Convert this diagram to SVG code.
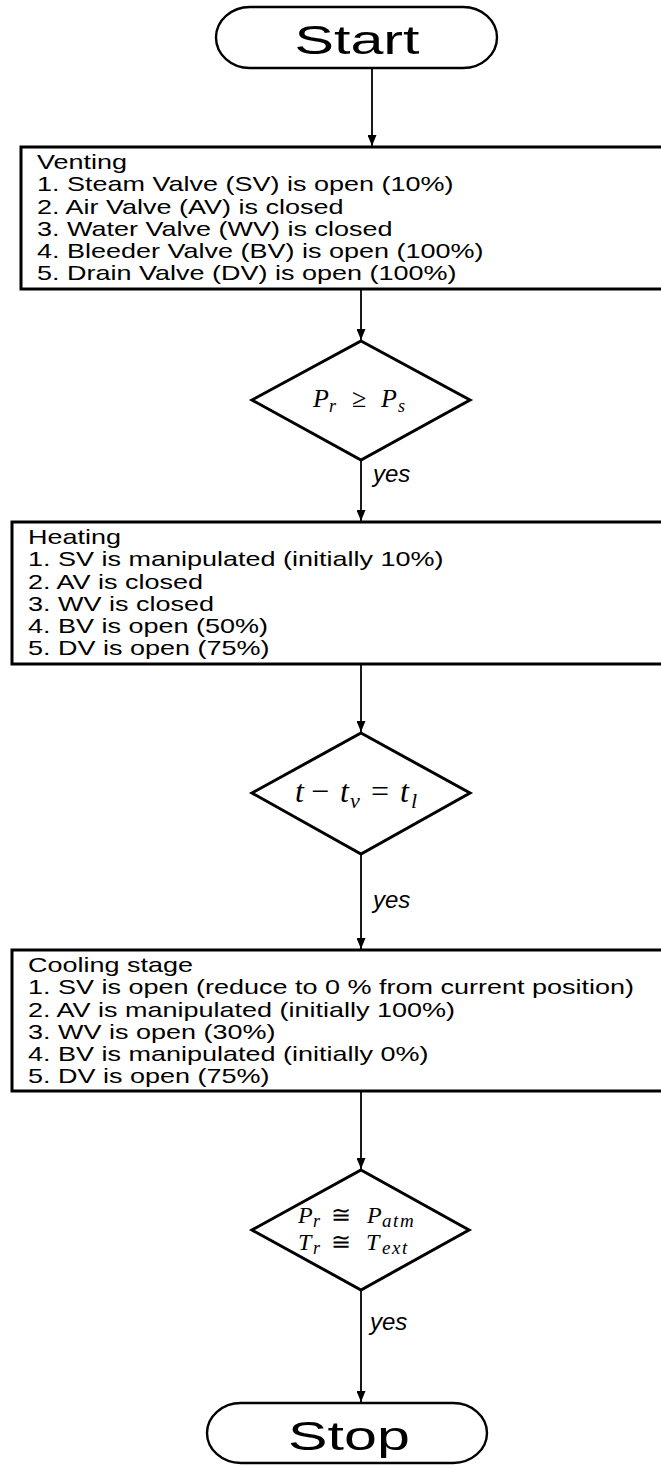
<svg xmlns="http://www.w3.org/2000/svg" width="661" height="1465" viewBox="0 0 661 1465">
<style>
.bg{fill:#fff}
.term{fill:#fff;stroke:#000;stroke-width:2.4}
.box{fill:#fff;stroke:#000;stroke-width:3}
.dia{fill:#fff;stroke:#000;stroke-width:3;stroke-linejoin:miter}
.conn{stroke:#000;stroke-width:1.8;fill:none;marker-end:url(#ah)}
.tt{font-family:"Liberation Sans",Arial,sans-serif;font-size:40px;fill:#000}
.lst{font-family:"Liberation Sans",Arial,sans-serif;font-size:20px;fill:#000}
.yes{font-family:"Liberation Sans",Arial,sans-serif;font-size:24px;font-style:italic;fill:#000}
.m{font-family:"Liberation Serif","DejaVu Serif",serif;font-style:italic;fill:#000}
.up{font-style:normal}
</style>
<defs>
<marker id="ah" markerWidth="11" markerHeight="9" refX="11" refY="4.5" orient="auto" markerUnits="userSpaceOnUse">
<path d="M0,0 L11,4.5 L0,9 z" fill="#000"/>
</marker>
</defs>
<rect class="bg" x="0" y="0" width="661" height="1465"/>

<g id="connectors">
<line class="conn" x1="372" y1="68" x2="372" y2="146"/>
<line class="conn" x1="361" y1="290" x2="361" y2="340"/>
<line class="conn" x1="361" y1="460" x2="361" y2="521"/>
<line class="conn" x1="361" y1="665" x2="361" y2="732"/>
<line class="conn" x1="361" y1="854" x2="361" y2="949"/>
<line class="conn" x1="361" y1="1092" x2="361" y2="1169"/>
<line class="conn" x1="361" y1="1290" x2="361" y2="1402"/>
<text class="yes" x="373" y="482">yes</text>
<text class="yes" x="373" y="908">yes</text>
<text class="yes" x="370" y="1330">yes</text>
</g>

<g id="start">
<rect class="term" x="216" y="7" width="281" height="61" rx="34" ry="30.5"/>
<text class="tt" text-anchor="middle" transform="translate(357,54) scale(1.48,1)">Start</text>
</g>

<g id="venting">
<rect class="box" x="21" y="147" width="700" height="142"/>
<text class="lst" transform="translate(37,169) scale(1.35,1)">
<tspan x="0" y="0">Venting</tspan>
<tspan x="0" y="22.3">1. Steam Valve (SV) is open (10%)</tspan>
<tspan x="0" y="44.6">2. Air Valve (AV) is closed</tspan>
<tspan x="0" y="66.9">3. Water Valve (WV) is closed</tspan>
<tspan x="0" y="89.2">4. Bleeder Valve (BV) is open (100%)</tspan>
<tspan x="0" y="111.5">5. Drain Valve (DV) is open (100%)</tspan>
</text>
</g>

<g id="decision1">
<polygon class="dia" points="361,341 470,400 361,460 252,400"/>
<text class="m" font-size="26"><tspan x="313" y="407">P</tspan><tspan x="329" y="412" font-size="18">r</tspan><tspan class="up" x="352" y="407">≥</tspan><tspan x="381" y="407">P</tspan><tspan x="398" y="412" font-size="18">s</tspan></text>
</g>

<g id="heating">
<rect class="box" x="12" y="522" width="700" height="142"/>
<text class="lst" transform="translate(28,544) scale(1.35,1)">
<tspan x="0" y="0">Heating</tspan>
<tspan x="0" y="22.3">1. SV is manipulated (initially 10%)</tspan>
<tspan x="0" y="44.6">2. AV is closed</tspan>
<tspan x="0" y="66.9">3. WV is closed</tspan>
<tspan x="0" y="89.2">4. BV is open (50%)</tspan>
<tspan x="0" y="111.5">5. DV is open (75%)</tspan>
</text>
</g>

<g id="decision2">
<polygon class="dia" points="361,733 470,793 361,854 252,793"/>
<text class="m" font-size="32"><tspan x="295" y="802">t</tspan><tspan class="up" x="311" y="802">−</tspan><tspan x="340" y="802">t</tspan><tspan x="350" y="808" font-size="22">v</tspan><tspan class="up" x="371" y="802">=</tspan><tspan x="400" y="802">t</tspan><tspan x="411" y="808" font-size="22">l</tspan></text>
</g>

<g id="cooling">
<rect class="box" x="12" y="950" width="700" height="141"/>
<text class="lst" transform="translate(28,972) scale(1.35,1)">
<tspan x="0" y="0">Cooling stage</tspan>
<tspan x="0" y="22.3">1. SV is open (reduce to 0 % from current position)</tspan>
<tspan x="0" y="44.6">2. AV is manipulated (initially 100%)</tspan>
<tspan x="0" y="66.9">3. WV is open (30%)</tspan>
<tspan x="0" y="89.2">4. BV is manipulated (initially 0%)</tspan>
<tspan x="0" y="111.5">5. DV is open (75%)</tspan>
</text>
</g>

<g id="decision3">
<polygon class="dia" points="361,1170 469,1230 361,1290 252,1230"/>
<text class="m" font-size="24"><tspan x="298" y="1223">P</tspan><tspan x="313" y="1227" font-size="18">r</tspan><tspan class="up" x="331" y="1223">≅</tspan><tspan x="367" y="1223">P</tspan><tspan x="382 393 400" y="1227" font-size="19">atm</tspan></text>
<text class="m" font-size="24"><tspan x="298" y="1250">T</tspan><tspan x="313" y="1254" font-size="18">r</tspan><tspan class="up" x="331" y="1250">≅</tspan><tspan x="366" y="1250">T</tspan><tspan x="382 392 402" y="1254" font-size="19">ext</tspan></text>
</g>

<g id="stop">
<rect class="term" x="207" y="1403" width="280" height="60" rx="34" ry="30"/>
<text class="tt" text-anchor="middle" transform="translate(349,1450) scale(1.48,1)">Stop</text>
</g>
</svg>
